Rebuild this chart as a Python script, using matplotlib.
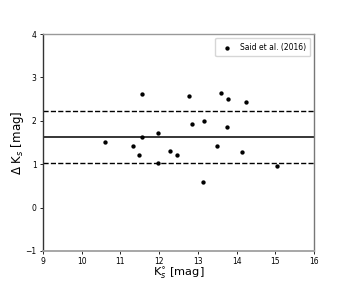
import matplotlib
matplotlib.use("Agg")
import matplotlib.pyplot as plt

# ==========================================
# Data
# ==========================================

ks0 = [11.56, 12.76, 10.61, 11.57, 11.96, 11.32, 11.47, 12.29, 12.47, 11.97,
       13.60, 13.77, 14.23, 12.85, 13.17, 13.74, 13.49, 14.14, 15.05, 13.12]
delta_ks = [2.61, 2.58, 1.51, 1.63, 1.72, 1.42, 1.22, 1.30, 1.21, 1.02,
            2.65, 2.50, 2.44, 1.93, 1.99, 1.86, 1.41, 1.29, 0.96, 0.60]

mean_offset = 1.63
upper_offset = 2.23
lower_offset = 1.03

# ==========================================
# Plot
# ==========================================

fig = plt.figure(figsize=(3.49, 2.82), dpi=100)
ax = fig.add_axes([0.123, 0.110, 0.777, 0.769])

ax.scatter(ks0, delta_ks, s=4.5, color="black", zorder=3, label="Said et al. (2016)")
ax.axhline(mean_offset, color="black", lw=1.1)
ax.axhline(upper_offset, color="black", lw=1.0, ls="--")
ax.axhline(lower_offset, color="black", lw=1.0, ls="--")

ax.set_xlim(9, 16)
ax.set_ylim(-1, 4)
ax.set_xticks(range(9, 17))
ax.set_yticks(range(-1, 5))
ax.set_yticklabels(["\u22121", "0", "1", "2", "3", "4"])
ax.tick_params(labelsize=5.5, length=2.5, width=0.6, pad=2)

ax.set_xlabel(r"K$_s^{\circ}$ [mag]", fontsize=8.2, labelpad=0)
ax.set_ylabel(r"$\Delta$ K$_s$ [mag]", fontsize=8.5, labelpad=0)

ax.spines["left"].set_color("#333333")
ax.spines["left"].set_linewidth(1.0)
ax.spines["bottom"].set_color("#a0a0a0")
ax.spines["bottom"].set_linewidth(1.3)
ax.spines["top"].set_color("#999999")
ax.spines["top"].set_linewidth(1.0)
ax.spines["right"].set_color("#777777")
ax.spines["right"].set_linewidth(1.0)

ax.legend(loc="upper right", fontsize=5.5, handletextpad=0.6, borderpad=0.6)

fig.savefig("out.png", dpi=100)
